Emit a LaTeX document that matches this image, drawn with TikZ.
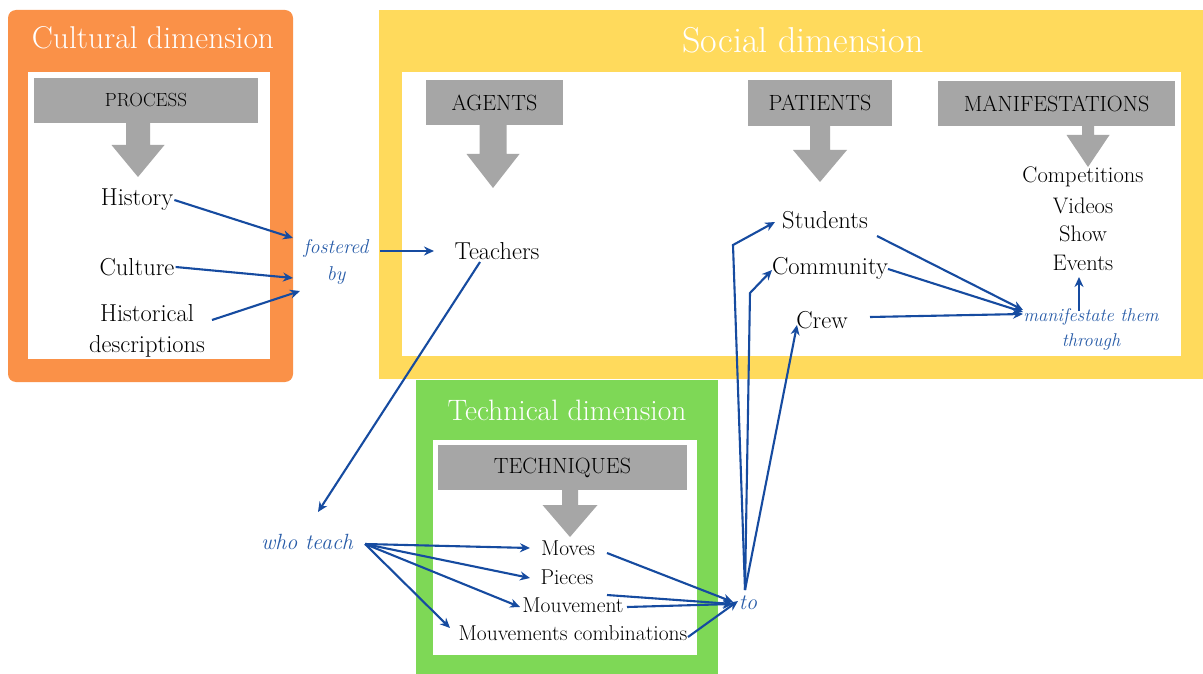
\documentclass[tikz,border=0pt]{standalone}
\usepackage{fontspec}
\usetikzlibrary{arrows.meta}

\definecolor{orangebg}{RGB}{250,145,72}
\definecolor{yellowbg}{RGB}{255,218,92}
\definecolor{greenbg}{RGB}{126,216,86}
\definecolor{graybox}{RGB}{166,166,166}
\definecolor{linkblue}{RGB}{22,75,160}
\definecolor{labelblue}{RGB}{40,92,168}

\tikzset{
  title/.style={text=white, inner sep=0pt},
  head/.style={fill=graybox, inner sep=0pt, font=\fontsize{22}{24}\selectfont},
  item/.style={inner sep=1pt, font=\fontsize{24.5}{28}\selectfont},
  titem/.style={inner sep=1pt, font=\fontsize{21.5}{24}\selectfont},
  mitem/.style={inner sep=1pt, font=\fontsize{22.5}{26}\selectfont},
  linklabel/.style={inner sep=1pt, text=labelblue, align=center},
  conn/.style={draw=linkblue, line width=2.1pt, -{Stealth[length=10pt,width=9pt]}},
}

% gray block arrow: centre x, stem top, head top, tip, stem half width, head half width
\newcommand\grayarrow[6]{%
  \fill[graybox] (#1-#5,#2) -- (#1+#5,#2) -- (#1+#5,#3) -- (#1+#6,#3) -- (#1,#4)
    -- (#1-#6,#3) -- (#1-#5,#3) -- cycle;}

\begin{document}
\begin{tikzpicture}[x=1pt,y=-1pt]
\useasboundingbox (0,0) rectangle (1203,674);

% ---- panels ----
\fill[orangebg, rounded corners=8pt] (8,10) rectangle (293,382);
\fill[white] (28,72) rectangle (270,359);
\fill[yellowbg] (379,10) rectangle (1203,379);
\fill[white] (402,72) rectangle (1181,356);
\fill[greenbg] (416,380) rectangle (718,674);
\fill[white] (433,440) rectangle (697,655);

% ---- panel titles ----
\node[title, font=\fontsize{31.5}{34}\selectfont] (tcult) at (153,38) {Cultural dimension};
\node[title, font=\fontsize{36}{40}\selectfont] (tsoc) at (803,40) {Social dimension};
\node[title, font=\fontsize{29.5}{32}\selectfont] (ttech) at (567,410) {Technical dimension};

% ---- gray headers ----
\node[head, minimum width=224pt, minimum height=45pt, font=\fontsize{19}{22}\selectfont] (process) at (146,100.5) {PROCESS};
\node[head, minimum width=137pt, minimum height=45pt] (agents) at (494.5,102.5) {AGENTS};
\node[head, minimum width=144pt, minimum height=46pt] (patients) at (820,103) {PATIENTS};
\node[head, minimum width=237pt, minimum height=45pt] (manif) at (1056.5,103.5) {MANIFESTATIONS};
\node[head, minimum width=249pt, minimum height=45pt] (techniques) at (562.5,467.5) {TECHNIQUES};

\grayarrow{138}{123}{145}{177}{12}{26.5}
\grayarrow{493}{125}{154}{188}{13.5}{26.5}
\grayarrow{820}{126}{150}{182}{10}{27}
\grayarrow{1088}{126}{135}{167}{6}{21.5}
\grayarrow{570}{490}{505}{537}{8}{27.5}

% ---- cultural items ----
\node[item] (history) at (137,200) {History};
\node[item] (culture) at (137,267) {Culture};
\node[item, align=center, font=\fontsize{24.5}{31}\selectfont] (histdesc) at (147,331) {Historical\\descriptions};

% ---- social items ----
\node[linklabel, font=\itshape\fontsize{20}{27}\selectfont] (fb) at (336,262) {fostered\\by};
\node[item] (teachers) at (497,251) {Teachers};
\node[item] (students) at (825,220) {Students};
\node[item] (community) at (830,268) {Community};
\node[item] (crew) at (822,320) {Crew};
\node[mitem] (competitions) at (1083,177) {Competitions};
\node[mitem] (videos) at (1083,206) {Videos};
\node[mitem] (show) at (1083,234) {Show};
\node[mitem] (events) at (1083,263) {Events};
\node[linklabel, font=\itshape\fontsize{18.5}{25}\selectfont] (mt) at (1091,329.5) {manifestate them\\through};

% ---- technical items ----
\node[titem] (moves) at (568,548) {Moves};
\node[titem] (pieces) at (567,577) {Pieces};
\node[titem] (mouvement) at (573,605) {Mouvement};
\node[titem] (combos) at (573,633) {Mouvements combinations};
\node[linklabel, font=\itshape\fontsize{22}{26}\selectfont] (to) at (748,603) {to};
\node[linklabel, font=\itshape\fontsize{22}{26}\selectfont] (whoteach) at (307,542) {who teach};

% ---- connector end points ----
\coordinate (fb-in1) at (293,238);
\coordinate (fb-in2) at (293,278);
\coordinate (fb-in3) at (300,291);
\coordinate (hd-out) at (212,320);
\coordinate (fb-out) at (380,251);
\coordinate (teachers-in) at (434,251);
\coordinate (teachers-out) at (480,262);
\coordinate (wt-in) at (318,512);
\coordinate (wt-out) at (365,544);
\coordinate (moves-in) at (530,548);
\coordinate (pieces-in) at (530,578);
\coordinate (mouv-in) at (520,607);
\coordinate (combos-in) at (450,628);
\coordinate (moves-out) at (607,553);
\coordinate (pieces-out) at (607,595);
\coordinate (mouv-out) at (627,607);
\coordinate (combos-out) at (688,637);
\coordinate (to-in1) at (733,602);
\coordinate (to-in2) at (733,604);
\coordinate (to-in3) at (738,601);
\coordinate (to-up) at (745,590);
\coordinate (bend-s) at (733,245);
\coordinate (bend-c) at (750,293);
\coordinate (students-in) at (775,222);
\coordinate (community-in) at (772,270);
\coordinate (crew-in) at (797,325);
\coordinate (students-out) at (877,236);
\coordinate (community-out) at (888,269);
\coordinate (crew-out) at (870,317);
\coordinate (mt-in1) at (1023,310);
\coordinate (mt-in2) at (1023,312);
\coordinate (mt-in3) at (1023,314);
\coordinate (mt-out) at (1079,311);
\coordinate (events-in) at (1079,277);

% ---- connectors ----
\draw[conn] (history.east) -- (fb-in1);
\draw[conn] (culture.east) -- (fb-in2);
\draw[conn] (hd-out) -- (fb-in3);
\draw[conn] (fb-out) -- (teachers-in);
\draw[conn] (teachers-out) -- (wt-in);
\draw[conn] (wt-out) -- (moves-in);
\draw[conn] (wt-out) -- (pieces-in);
\draw[conn] (wt-out) -- (mouv-in);
\draw[conn] (wt-out) -- (combos-in);
\draw[conn] (moves-out) -- (to-in1);
\draw[conn] (pieces-out) -- (to-in2);
\draw[conn] (mouv-out) -- (to-in2);
\draw[conn] (combos-out) -- (to-in3);
\draw[conn] (to-up) -- (bend-s) -- (students-in);
\draw[conn] (to-up) -- (bend-c) -- (community-in);
\draw[conn] (to-up) -- (crew-in);
\draw[conn] (students-out) -- (mt-in1);
\draw[conn] (community-out) -- (mt-in2);
\draw[conn] (crew-out) -- (mt-in3);
\draw[conn] (mt-out) -- (events-in);
\end{tikzpicture}
\end{document}
